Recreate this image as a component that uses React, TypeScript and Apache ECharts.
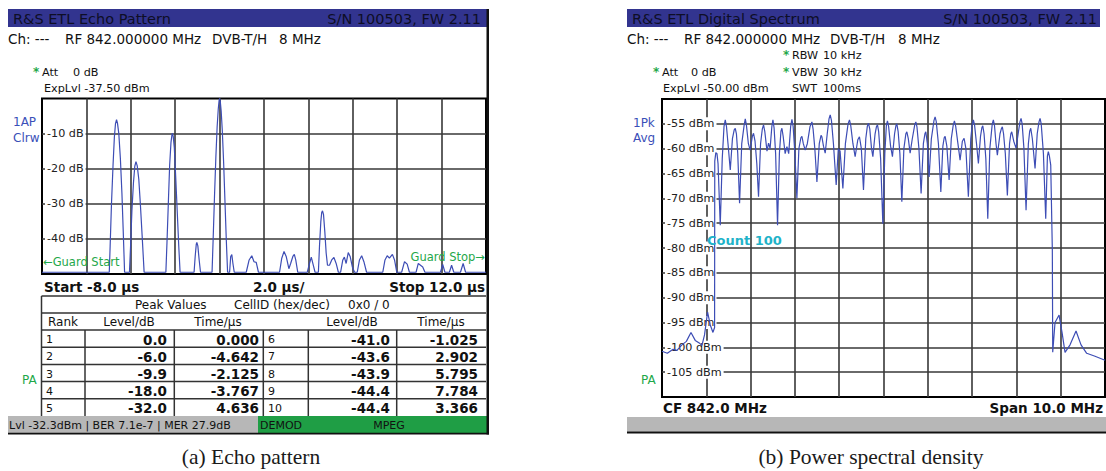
import React, { useEffect, useRef } from 'react';
import * as echarts from 'echarts';

// Echo pattern trace between the listed peaks: [time µs, level dB]
const echoShape: [number, number][] = [
  [-8.0, -49.5],
  [-4.97, -49.5], [-4.93, -42], [-4.87, -30], [-4.8, -19], [-4.74, -11], [-4.69, -7.2],
  [-4.6, -7.0], [-4.54, -10], [-4.47, -17], [-4.4, -27], [-4.34, -38], [-4.28, -49.5],
  [-4.06, -49.5], [-4.01, -42], [-3.95, -32], [-3.88, -24], [-3.82, -19.3],
  [-3.71, -19.2], [-3.64, -23], [-3.57, -30], [-3.49, -39], [-3.4, -49.5],
  [-2.42, -49.5], [-2.37, -41], [-2.31, -30], [-2.25, -19], [-2.19, -12.5], [-2.15, -10.5],
  [-2.09, -10.8], [-2.04, -14], [-1.98, -22], [-1.91, -32], [-1.84, -42], [-1.78, -49.5],
  [-1.15, -49.5], [-1.1, -45], [-1.05, -41.5], [-0.98, -42], [-0.92, -46], [-0.86, -49.5],
  [-0.34, -49.5], [-0.29, -40], [-0.23, -28], [-0.17, -17], [-0.11, -8], [-0.06, -3], [-0.025, -0.7],
  [0.03, -0.8], [0.07, -3.5], [0.12, -9], [0.18, -18], [0.24, -29], [0.3, -40], [0.36, -49.5],
  [0.45, -49.5], [0.5, -45], [0.55, -44.5], [0.6, -47], [0.66, -49.5],
  [1.2, -49.5], [1.33, -46], [1.45, -44.8], [1.55, -46.5], [1.65, -46.7], [1.75, -49.5],
  [2.7, -49.5], [2.8, -45.5], [3.0, -45], [3.12, -48.5], [3.2, -47], [3.3, -45], [3.43, -46], [3.52, -49.5],
  [3.95, -49.5], [4.05, -47], [4.13, -45.2], [4.22, -47.5], [4.3, -49.5],
  [4.45, -49.5], [4.5, -42], [4.56, -35], [4.6, -32.5], [4.68, -33], [4.74, -38], [4.8, -44], [4.86, -47.5],
  [4.95, -47.5], [5.05, -46], [5.15, -45.3], [5.25, -47], [5.35, -49.5],
  [5.45, -49.5], [5.55, -46], [5.62, -45.2], [5.7, -47], [5.88, -45], [5.98, -48], [6.08, -49.5],
  [6.2, -49.5], [6.3, -46], [6.4, -44.8], [6.5, -46.5], [6.62, -49.5],
  [7.35, -49.5], [7.45, -46], [7.55, -44.8], [7.65, -45.5], [7.88, -46], [7.98, -49.5],
  [8.2, -49.5], [8.33, -46.5], [8.45, -47.2], [8.55, -49.5],
  [8.85, -49.5], [8.95, -47], [9.05, -47.5], [9.15, -48], [9.25, -49.5],
  [9.95, -49.5], [10.05, -47.3], [10.15, -49.5],
  [10.35, -49.5], [10.45, -47.5], [10.55, -49.5],
  [10.85, -49.5], [10.97, -47], [11.08, -49.5], [12.0, -49.5],
];

// Peak table
const peakRanks = [1, 2, 3, 4, 5, 6, 7, 8, 9, 10];
const peakLevels = [0.0, -6.0, -9.9, -18.0, -32.0, -41.0, -43.6, -43.9, -44.4, -44.4];
const peakTimes = [0.0, -4.642, -2.125, -3.767, 4.636, -1.025, 2.902, 5.795, 7.784, 3.366];

// Digital spectrum trace: [frequency MHz, level dBm]
const spectrumTrace: [number, number][] = [
  [837.0, -100.8], [837.12, -101.2], [837.25, -100.4], [837.338, -100.6], [837.45, -99.5], [837.55, -98.8],
  [837.654, -97.0], [837.75, -98.6], [837.85, -99.2], [837.902, -99.6], [837.96, -97.5], [838.029, -92.9],
  [838.09, -95.5], [838.15, -97.0], [838.187, -96.0],
  [838.191, -62.5], [838.215, -60.8], [838.241, -61.0], [838.265, -63], [838.315, -75.4], [838.36, -62],
  [838.4, -55.5], [838.428, -54.2], [838.455, -55.5], [838.49, -59], [838.541, -64.3], [838.59, -58],
  [838.63, -56.2], [838.654, -55.9], [838.68, -57], [838.71, -61], [838.751, -71.0], [838.8, -59],
  [838.855, -55.2], [838.88, -54.0], [838.905, -55.2], [838.95, -59], [838.99, -60.3], [839.04, -57.5],
  [839.066, -56.9], [839.1, -58.5], [839.14, -63], [839.179, -69.7], [839.225, -59], [839.265, -56],
  [839.292, -55.2], [839.32, -56.5], [839.37, -60.5], [839.405, -58.9], [839.44, -60], [839.48, -55.5],
  [839.504, -54.2], [839.53, -55.8], [839.565, -61], [839.608, -75.4], [839.65, -61], [839.685, -56.5],
  [839.707, -55.9], [839.735, -57.5], [839.78, -61], [839.82, -59.6], [839.86, -61], [839.905, -55.5],
  [839.933, -54.1], [839.96, -55.5], [840.0, -61], [840.045, -70.0], [840.09, -60], [840.135, -57.8],
  [840.158, -57.5], [840.19, -59], [840.233, -60.3], [840.28, -59], [840.34, -55.6], [840.384, -54.6],
  [840.41, -56], [840.45, -60], [840.497, -66.7], [840.55, -59], [840.59, -57.3], [840.609, -57.6],
  [840.645, -59.5], [840.684, -60.9], [840.73, -57], [840.77, -54], [840.797, -53.2], [840.825, -54.3],
  [840.87, -59], [840.932, -67.3], [840.98, -60], [841.02, -60.5], [841.083, -68.0], [841.14, -59],
  [841.2, -55], [841.232, -54.2], [841.26, -55.3], [841.31, -59], [841.36, -61.6], [841.42, -58.2],
  [841.457, -57.6], [841.5, -60], [841.548, -68.3], [841.6, -58], [841.635, -55.5], [841.661, -54.9],
  [841.69, -56], [841.73, -60], [841.76, -61.6], [841.81, -57], [841.84, -55.6], [841.864, -55.2],
  [841.89, -56.5], [841.935, -62], [841.985, -75.1], [842.03, -61], [842.065, -55.3], [842.089, -54.4],
  [842.115, -55.5], [842.16, -59.5], [842.202, -61.6], [842.25, -57], [842.28, -55.4], [842.301, -55.0],
  [842.33, -56.5], [842.37, -61], [842.414, -70.7], [842.46, -60], [842.505, -57], [842.527, -56.6],
  [842.56, -58], [842.601, -60.9], [842.65, -58], [842.705, -55.2], [842.73, -54.6], [842.755, -55.6],
  [842.8, -60], [842.849, -69.0], [842.9, -59], [842.935, -57], [842.955, -56.6], [842.99, -59],
  [843.03, -65.7], [843.08, -58], [843.14, -54.3], [843.165, -53.6], [843.19, -54.5], [843.24, -59],
  [843.294, -68.7], [843.34, -59.5], [843.37, -57.8], [843.391, -57.5], [843.43, -59.5], [843.481, -66.3],
  [843.53, -58], [843.575, -55.2], [843.601, -54.4], [843.63, -55.5], [843.68, -59], [843.729, -62.3],
  [843.78, -58.5], [843.819, -57.9], [843.86, -60], [843.916, -69.7], [843.97, -58], [844.005, -55],
  [844.029, -54.2], [844.055, -55.2], [844.1, -59], [844.142, -63.0], [844.19, -57.5], [844.22, -55.8],
  [844.241, -55.4], [844.27, -57], [844.31, -62], [844.354, -74.1], [844.4, -60], [844.455, -55],
  [844.48, -54.2], [844.505, -55.3], [844.54, -59], [844.57, -61.3], [844.63, -57], [844.66, -56],
  [844.683, -55.6], [844.71, -57], [844.75, -61], [844.796, -69.4], [844.845, -59], [844.875, -57],
  [844.895, -56.6], [844.94, -58.5], [844.992, -59.9], [845.04, -57], [845.08, -54.6], [845.105, -53.9],
  [845.13, -55], [845.17, -60], [845.218, -72.4], [845.27, -59], [845.3, -56.5], [845.324, -55.9],
  [845.36, -58], [845.421, -64.0], [845.47, -57], [845.51, -54.6], [845.534, -53.9], [845.56, -55],
  [845.61, -61], [845.662, -74.1], [845.7, -61.5], [845.721, -60.6], [845.745, -61.5], [845.775, -63.3],
  [845.811, -80.4], [845.82, -101.0], [845.872, -95.0], [845.963, -93.5], [846.03, -97.0], [846.098, -101.0],
  [846.211, -99.5], [846.346, -96.7], [846.459, -99.5], [846.587, -101.2], [846.775, -101.8], [847.0, -102.6],
];

const SANS = '"DejaVu Sans", Verdana, sans-serif';
const SERIF = '"Liberation Serif", "Times New Roman", serif';
const TRACE = '#3d4db5';
const NAVY = '#32348f';
const GREEN = '#1fa84a';
const BLUE_LBL = '#3a4fb8';

type TxtOpt = { fill?: string; size?: number; weight?: string; align?: string; family?: string };
const txt = (text: string, x: number, y: number, o: TxtOpt = {}) => ({
  type: 'text',
  x,
  y,
  silent: true,
  z: 60,
  style: {
    text,
    fill: o.fill || '#111',
    font: `${o.weight || 'normal'} ${o.size || 11}px ${o.family || SANS}`,
    align: o.align || 'left',
    verticalAlign: 'middle',
  },
});
const rect = (x: number, y: number, w: number, h: number, fill: string) => ({
  type: 'rect',
  silent: true,
  z: 55,
  shape: { x, y, width: w, height: h },
  style: { fill },
});
const hline = (x1: number, x2: number, y: number, stroke = '#333', lw = 1.5) => ({
  type: 'line',
  silent: true,
  z: 56,
  shape: { x1, y1: y, x2, y2: y },
  style: { stroke, lineWidth: lw },
});
const vline = (x: number, y1: number, y2: number, stroke = '#333', lw = 1.5) => ({
  type: 'line',
  silent: true,
  z: 56,
  shape: { x1: x, y1, x2: x, y2 },
  style: { stroke, lineWidth: lw },
});

function buildGraphics() {
  const g: any[] = [];
  // ---- Echo pattern panel ----
  g.push(rect(8, 9, 479, 18, NAVY));
  g.push(txt('R&S ETL Echo Pattern', 13, 18.5, { size: 14.5, fill: '#0e0e26' }));
  g.push(txt('S/N 100503, FW 2.11', 481, 18.5, { size: 14.5, fill: '#0e0e26', align: 'right' }));
  g.push(txt('Ch: ---', 8, 39, { size: 13.5 }));
  g.push(txt('RF 842.000000 MHz', 65, 39, { size: 13.5 }));
  g.push(txt('DVB-T/H', 212, 39, { size: 13.5 }));
  g.push(txt('8 MHz', 279, 39, { size: 13.5 }));
  g.push(txt('*', 33, 72, { size: 12, fill: GREEN, weight: 'bold' }));
  g.push(txt('Att', 42, 72, { size: 11.2 }));
  g.push(txt('0 dB', 73, 72, { size: 11.2 }));
  g.push(txt('ExpLvl -37.50 dBm', 44, 88, { size: 11.2 }));
  g.push(txt('1AP', 13, 122, { size: 12, fill: BLUE_LBL }));
  g.push(txt('Clrw', 13, 138, { size: 12, fill: BLUE_LBL }));
  g.push(txt('\u2190Guard Start', 43, 262, { size: 11.5, fill: GREEN }));
  g.push(txt('Guard Stop\u2192', 485, 257, { size: 11.5, fill: GREEN, align: 'right' }));
  g.push(txt('Start -8.0 \u00b5s', 44, 287, { size: 13.5, weight: 'bold' }));
  g.push(txt('2.0 \u00b5s/', 253, 287, { size: 13.5, weight: 'bold' }));
  g.push(txt('Stop 12.0 \u00b5s', 485, 287, { size: 13.5, weight: 'bold', align: 'right' }));

  // peak table
  const rows = [296, 313, 330, 347.2, 364.4, 381.6, 398.8, 416];
  rows.slice(0, 7).forEach((y) => g.push(hline(41.5, 486, y)));
  g.push(vline(41.5, 296, 416));
  [85, 174.3, 263.3, 308.3, 396.7].forEach((x) => g.push(vline(x, 330, 416)));
  const mid = (i: number) => (rows[i] + rows[i + 1]) / 2;
  g.push(txt('Peak Values', 135, mid(0), { size: 12 }));
  g.push(txt('CellID (hex/dec)', 234, mid(0), { size: 12 }));
  g.push(txt('0x0 / 0', 348, mid(0), { size: 12 }));
  g.push(txt('Rank', 48, mid(1), { size: 12 }));
  g.push(txt('Level/dB', 129, mid(1), { size: 12, align: 'center' }));
  g.push(txt('Time/\u00b5s', 218, mid(1), { size: 12, align: 'center' }));
  g.push(txt('Level/dB', 352, mid(1), { size: 12, align: 'center' }));
  g.push(txt('Time/\u00b5s', 441, mid(1), { size: 12, align: 'center' }));
  for (let i = 0; i < 5; i++) {
    const y = mid(i + 2) + 1;
    g.push(txt(String(peakRanks[i]), 46, y, { size: 11 }));
    g.push(txt(peakLevels[i].toFixed(1), 167, y, { size: 13.5, weight: 'bold', align: 'right' }));
    g.push(txt(peakTimes[i].toFixed(3), 259, y, { size: 13.5, weight: 'bold', align: 'right' }));
    g.push(txt(String(peakRanks[i + 5]), 268, y, { size: 11 }));
    g.push(txt(peakLevels[i + 5].toFixed(1), 390, y, { size: 13.5, weight: 'bold', align: 'right' }));
    g.push(txt(peakTimes[i + 5].toFixed(3), 478, y, { size: 13.5, weight: 'bold', align: 'right' }));
  }
  g.push(txt('PA', 22, 380, { size: 12, fill: GREEN }));

  // status bar
  g.push(rect(8, 416, 250, 17, '#b7b7b7'));
  g.push(rect(258, 416, 229, 17, '#1f9e45'));
  g.push(txt('Lvl -32.3dBm | BER 7.1e-7 | MER 27.9dB', 9, 425, { size: 11 }));
  g.push(txt('DEMOD', 260, 425, { size: 11 }));
  g.push(txt('MPEG', 389, 425, { size: 11, align: 'center' }));
  g.push(rect(486.5, 9, 2.5, 425.5, '#111'));
  g.push(rect(8, 432.8, 481, 1.8, '#111'));

  // ---- Digital spectrum panel ----
  g.push(rect(627, 9, 473, 18, NAVY));
  g.push(txt('R&S ETL Digital Spectrum', 632, 18.5, { size: 14.5, fill: '#0e0e26' }));
  g.push(txt('S/N 100503, FW 2.11', 1097, 18.5, { size: 14.5, fill: '#0e0e26', align: 'right' }));
  g.push(txt('Ch: ---', 627, 39, { size: 13.5 }));
  g.push(txt('RF 842.000000 MHz', 684, 39, { size: 13.5 }));
  g.push(txt('DVB-T/H', 830, 39, { size: 13.5 }));
  g.push(txt('8 MHz', 898, 39, { size: 13.5 }));
  g.push(txt('*', 783, 55, { size: 12, fill: GREEN, weight: 'bold' }));
  g.push(txt('RBW', 792, 55, { size: 11.2 }));
  g.push(txt('10 kHz', 823, 55, { size: 11.2 }));
  g.push(txt('*', 653, 72, { size: 12, fill: GREEN, weight: 'bold' }));
  g.push(txt('Att', 662, 72, { size: 11.2 }));
  g.push(txt('0 dB', 691, 72, { size: 11.2 }));
  g.push(txt('*', 783, 72, { size: 12, fill: GREEN, weight: 'bold' }));
  g.push(txt('VBW', 792, 72, { size: 11.2 }));
  g.push(txt('30 kHz', 823, 72, { size: 11.2 }));
  g.push(txt('ExpLvl -50.00 dBm', 663, 88, { size: 11.2 }));
  g.push(txt('SWT', 792, 88, { size: 11.2 }));
  g.push(txt('100ms', 823, 88, { size: 11.2 }));
  g.push(txt('1Pk', 633, 123, { size: 12, fill: BLUE_LBL }));
  g.push(txt('Avg', 633, 138, { size: 12, fill: BLUE_LBL }));
  g.push(txt('PA', 641, 380, { size: 12, fill: GREEN }));
  g.push(txt('Count 100', 707, 240, { size: 13, weight: 'bold', fill: '#1fb3c9' }));
  g.push(txt('CF 842.0 MHz', 663, 408, { size: 13.5, weight: 'bold' }));
  g.push(txt('Span 10.0 MHz', 1103, 408, { size: 13.5, weight: 'bold', align: 'right' }));
  g.push(rect(627, 417, 479, 14.8, '#b7b7b7'));
  g.push(rect(627, 431.6, 479, 1.8, '#111'));

  // captions
  g.push(txt('(a) Echo pattern', 251, 457, { size: 21.5, family: SERIF, fill: '#1a1a1a', align: 'center' }));
  g.push(txt('(b) Power spectral density', 871, 457, { size: 21.5, family: SERIF, fill: '#1a1a1a', align: 'center' }));
  return g;
}

function buildOption() {
  // the echo trace passes through each tabulated peak
  const echoData = echoShape
    .concat(peakTimes.map((t, i) => [t, peakLevels[i]] as [number, number]))
    .sort((a, b) => a[0] - b[0]);

  const grid = '#383838';
  const split = { show: true, showMinLine: false, showMaxLine: false, lineStyle: { color: grid, width: 1.6 } };
  const yLabel = (unit: string) => ({
    inside: true,
    margin: 3,
    showMinLabel: false,
    showMaxLabel: false,
    formatter: (v: number) => `${v} ${unit}`,
    color: '#222',
    fontSize: 11.2,
    fontFamily: SANS,
    backgroundColor: '#fff',
    padding: [1, 2, 1, 2],
  });

  return {
    animation: false,
    backgroundColor: '#fff',
    grid: [
      { left: 42, top: 98.5, width: 444, height: 175.5, show: true, borderColor: '#000', borderWidth: 2, backgroundColor: 'transparent' },
      { left: 662, top: 99, width: 443, height: 298, show: true, borderColor: '#000', borderWidth: 2, backgroundColor: 'transparent' },
    ],
    xAxis: [
      {
        gridIndex: 0, type: 'value', min: -8, max: 12, interval: 2, z: 1,
        axisLine: { show: false }, axisTick: { show: false }, axisLabel: { show: false }, splitLine: split,
      },
      {
        gridIndex: 1, type: 'value', min: 837, max: 847, interval: 1, z: 1,
        axisLine: { show: false }, axisTick: { show: false }, axisLabel: { show: false }, splitLine: split,
      },
    ],
    yAxis: [
      {
        gridIndex: 0, type: 'value', min: -50, max: 0, interval: 10, z: 2,
        axisLine: { show: false }, axisTick: { show: false }, axisLabel: yLabel('dB'), splitLine: split,
      },
      {
        gridIndex: 1, type: 'value', min: -110, max: -50, interval: 5, z: 2,
        axisLine: { show: false }, axisTick: { show: false }, axisLabel: yLabel('dBm'), splitLine: split,
      },
    ],
    series: [
      {
        type: 'line', xAxisIndex: 0, yAxisIndex: 0, data: echoData, showSymbol: false, silent: true, z: 5,
        lineStyle: { color: TRACE, width: 1.2 },
      },
      {
        type: 'line', xAxisIndex: 1, yAxisIndex: 1, data: spectrumTrace, showSymbol: false, silent: true, z: 5,
        lineStyle: { color: TRACE, width: 1.2 },
      },
    ],
    graphic: { elements: buildGraphics() },
  };
}

export default function App() {
  const ref = useRef<HTMLDivElement>(null);
  useEffect(() => {
    if (!ref.current) return;
    const chart = echarts.init(ref.current, undefined, { renderer: 'svg' });
    chart.setOption(buildOption() as any);
    return () => chart.dispose();
  }, []);
  return (
    <div
      ref={ref}
      style={{ position: 'absolute', left: 0, top: 0, width: 1106, height: 471, background: '#fff' }}
    />
  );
}
